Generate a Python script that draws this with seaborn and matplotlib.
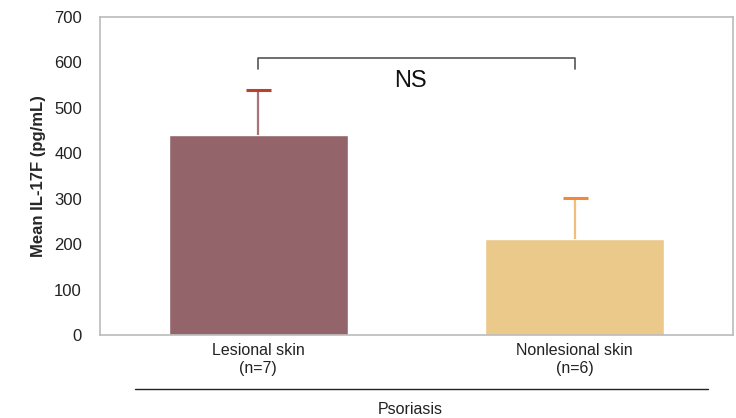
import matplotlib
matplotlib.use("Agg")
import matplotlib.pyplot as plt
import seaborn as sns
import pandas as pd

# data
groups = ["Lesional skin\n(n=7)", "Nonlesional skin\n(n=6)"]
means = [440, 212]
sd_upper = [100, 90]
bar_colors = ["#94646B", "#EBC98A"]
err_line_colors = ["#A8747A", "#F0BE7A"]
cap_colors = ["#B8412F", "#F08A3A"]

sns.set_theme(style="white")
plt.rcParams['font.family'] = ['Liberation Sans', 'DejaVu Sans']

df = pd.DataFrame({"group": groups, "mean": means})

fig = plt.figure(figsize=(7.36, 4.18), dpi=100)
ax = fig.add_axes([100 / 736, (418 - 335) / 418, 633 / 736, 318 / 418])

sns.barplot(data=df, x="group", y="mean", hue="group", palette=bar_colors,
            width=0.565, legend=False, ax=ax, saturation=1)

for i in range(len(groups)):
    _, caps, bars = ax.errorbar(i, means[i], yerr=[[0], [sd_upper[i]]], fmt="none",
                                ecolor=err_line_colors[i], elinewidth=1.6,
                                capsize=9, capthick=2.2)
    # caps are [lower, upper]: only the upper one is shown
    caps[0].set_visible(False)
    caps[1].set_markeredgecolor(cap_colors[i])

ax.set_xlim(-0.5, 1.5)
ax.set_ylim(0, 700)
ax.set_yticks(range(0, 701, 100))
ax.tick_params(axis="y", direction="out", length=6, color="#BBBBBB", labelsize=12,
               labelcolor="#222222", pad=7)
ax.tick_params(axis="x", length=0, labelsize=11.5, labelcolor="#222222", pad=6)
ax.set_xlabel("")
ax.set_ylabel("Mean IL-17F (pg/mL)", fontsize=12, fontweight="bold", labelpad=6)
for s in ax.spines.values():
    s.set_color("#BBBBBB")
    s.set_linewidth(1.2)

# significance bracket
ax.plot([0, 0, 1, 1], [585, 610, 610, 585], color="#555555", lw=1.2)
ax.text(0.48, 560, "NS", ha="center", va="center", fontsize=17, color="#111111")

# group line and label below the axis
ax.plot([-0.39, 1.42], [-118, -118], color="#222222", lw=1.0, clip_on=False)
ax.text(0.48, -163, "Psoriasis", ha="center", va="center", fontsize=11.5,
        color="#222222", clip_on=False)

fig.savefig("out.png", dpi=100)
